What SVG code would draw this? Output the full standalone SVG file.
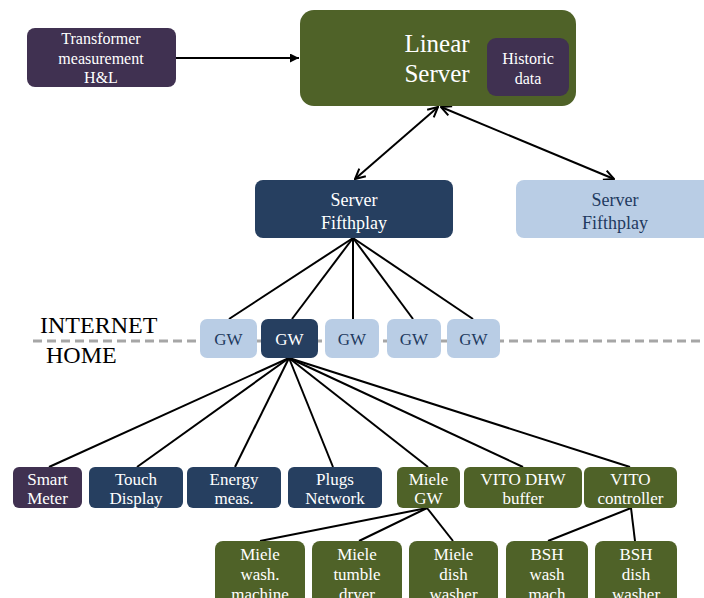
<svg xmlns="http://www.w3.org/2000/svg" width="704" height="598" viewBox="0 0 704 598">
<defs>
<style>
text{font-family:"Liberation Serif","Times New Roman",serif;text-anchor:middle;fill:#fff;}
.purple{fill:#403151;}
.green{fill:#4f6228;}
.dark{fill:#263f60;}
.light{fill:#b9cde5;}
.lt{fill:#1f3a5f;}
.f16{font-size:16px;}
.f17{font-size:17px;}
.f18{font-size:18px;}
.f25{font-size:25px;}
.lbl{font-size:24px;fill:#000;text-anchor:start;}
.c{stroke:#000;stroke-width:2;fill:none;}
</style>
<marker id="ah" viewBox="0 0 12 12" refX="11" refY="6" markerWidth="12" markerHeight="12" markerUnits="userSpaceOnUse" orient="auto-start-reverse">
<path d="M1,1 L11,6 L1,11" fill="none" stroke="#000" stroke-width="2"/>
</marker>
<marker id="tri" viewBox="0 0 10 10" refX="10" refY="5" markerWidth="9" markerHeight="9" markerUnits="userSpaceOnUse" orient="auto">
<path d="M0,0 L10,5 L0,10 z" fill="#000"/>
</marker>
</defs>
<rect width="704" height="598" fill="#fff"/>

<line x1="33" y1="341" x2="704" y2="341" stroke="#a6a6a6" stroke-width="3" stroke-dasharray="9 5"/>
<text class="lbl" x="40" y="333">INTERNET</text>
<text class="lbl" x="46" y="363">HOME</text>

<g id="connectors">
<line class="c" x1="176" y1="58" x2="299" y2="58" marker-end="url(#tri)"/>
<line class="c" x1="438" y1="107" x2="355" y2="179" marker-start="url(#ah)" marker-end="url(#ah)"/>
<line class="c" x1="441" y1="107" x2="614" y2="179" marker-start="url(#ah)" marker-end="url(#ah)"/>
<line class="c" x1="353" y1="238" x2="229" y2="319"/>
<line class="c" x1="353" y1="238" x2="292" y2="319"/>
<line class="c" x1="353" y1="238" x2="353" y2="319"/>
<line class="c" x1="353" y1="238" x2="413" y2="319"/>
<line class="c" x1="353" y1="238" x2="473" y2="319"/>
<line class="c" x1="289" y1="358" x2="49" y2="467"/>
<line class="c" x1="289" y1="358" x2="137" y2="467"/>
<line class="c" x1="289" y1="358" x2="235" y2="467"/>
<line class="c" x1="289" y1="358" x2="333" y2="467"/>
<line class="c" x1="289" y1="358" x2="428" y2="467"/>
<line class="c" x1="289" y1="358" x2="523" y2="467"/>
<line class="c" x1="289" y1="358" x2="630" y2="467"/>
<line class="c" x1="427" y1="508" x2="260" y2="541"/>
<line class="c" x1="427" y1="508" x2="359" y2="541"/>
<line class="c" x1="427" y1="508" x2="453" y2="541"/>
<line class="c" x1="631" y1="508" x2="548" y2="541"/>
<line class="c" x1="631" y1="508" x2="635" y2="541"/>
</g>

<g id="transformer">
<rect class="purple" x="27" y="28" width="149" height="59" rx="8"/>
<text class="f16" x="101" y="44">Transformer</text>
<text class="f16" x="101" y="64">measurement</text>
<text class="f16" x="101" y="83">H&amp;L</text>
</g>

<g id="linear-server">
<rect class="green" x="300" y="10" width="276" height="96" rx="14"/>
<text class="f25" x="437" y="52">Linear</text>
<text class="f25" x="437" y="82">Server</text>
</g>

<g id="historic-data">
<rect class="purple" x="487" y="38" width="82" height="58" rx="9"/>
<text class="f16" x="528" y="64">Historic</text>
<text class="f16" x="528" y="84">data</text>
</g>

<g id="server-fifthplay-1">
<rect class="dark" x="255" y="180" width="198" height="58" rx="8"/>
<text class="f18" x="354" y="206">Server</text>
<text class="f18" x="354" y="229">Fifthplay</text>
</g>

<g id="server-fifthplay-2">
<rect class="light" x="516" y="180" width="200" height="58" rx="8"/>
<text class="f18 lt" x="615" y="206">Server</text>
<text class="f18 lt" x="615" y="229">Fifthplay</text>
</g>

<g id="gw1"><rect class="light" x="200" y="319" width="57" height="39" rx="7"/><text class="f17 lt" x="228.5" y="345">GW</text></g>
<g id="gw2"><rect class="dark" x="261" y="319" width="57" height="39" rx="7"/><text class="f17" x="289.5" y="345">GW</text></g>
<g id="gw3"><rect class="light" x="325" y="319" width="54" height="39" rx="7"/><text class="f17 lt" x="352" y="345">GW</text></g>
<g id="gw4"><rect class="light" x="387" y="319" width="54" height="39" rx="7"/><text class="f17 lt" x="414" y="345">GW</text></g>
<g id="gw5"><rect class="light" x="447" y="319" width="53" height="39" rx="7"/><text class="f17 lt" x="473.5" y="345">GW</text></g>

<g id="smart-meter"><rect class="purple" x="13" y="467" width="69" height="41" rx="6"/><text class="f17" x="47.5" y="485">Smart</text><text class="f17" x="47.5" y="504">Meter</text></g>
<g id="touch-display"><rect class="dark" x="89" y="467" width="94" height="41" rx="6"/><text class="f17" x="136" y="485">Touch</text><text class="f17" x="136" y="504">Display</text></g>
<g id="energy-meas"><rect class="dark" x="187" y="467" width="94" height="41" rx="6"/><text class="f17" x="234" y="485">Energy</text><text class="f17" x="234" y="504">meas.</text></g>
<g id="plugs-network"><rect class="dark" x="288" y="467" width="94" height="41" rx="6"/><text class="f17" x="335" y="485">Plugs</text><text class="f17" x="335" y="504">Network</text></g>
<g id="miele-gw"><rect class="green" x="397" y="467" width="63" height="41" rx="6"/><text class="f17" x="428.5" y="485">Miele</text><text class="f17" x="428.5" y="504">GW</text></g>
<g id="vito-dhw"><rect class="green" x="464" y="467" width="118" height="41" rx="6"/><text class="f17" x="523" y="485">VITO DHW</text><text class="f17" x="523" y="504">buffer</text></g>
<g id="vito-controller"><rect class="green" x="584" y="467" width="93" height="41" rx="6"/><text class="f17" x="630.5" y="485">VITO</text><text class="f17" x="630.5" y="504">controller</text></g>

<g id="miele-wash"><rect class="green" x="215" y="541" width="90" height="66" rx="8"/><text class="f17" x="260" y="560">Miele</text><text class="f17" x="260" y="580">wash.</text><text class="f17" x="260" y="600">machine</text></g>
<g id="miele-tumble"><rect class="green" x="312" y="541" width="90" height="66" rx="8"/><text class="f17" x="357" y="560">Miele</text><text class="f17" x="357" y="580">tumble</text><text class="f17" x="357" y="600">dryer</text></g>
<g id="miele-dish"><rect class="green" x="409" y="541" width="89" height="66" rx="8"/><text class="f17" x="453.5" y="560">Miele</text><text class="f17" x="453.5" y="580">dish</text><text class="f17" x="453.5" y="600">washer</text></g>
<g id="bsh-wash"><rect class="green" x="506" y="541" width="82" height="66" rx="8"/><text class="f17" x="547" y="560">BSH</text><text class="f17" x="547" y="580">wash</text><text class="f17" x="547" y="600">mach</text></g>
<g id="bsh-dish"><rect class="green" x="595" y="541" width="82" height="66" rx="8"/><text class="f17" x="636" y="560">BSH</text><text class="f17" x="636" y="580">dish</text><text class="f17" x="636" y="600">washer</text></g>
</svg>
